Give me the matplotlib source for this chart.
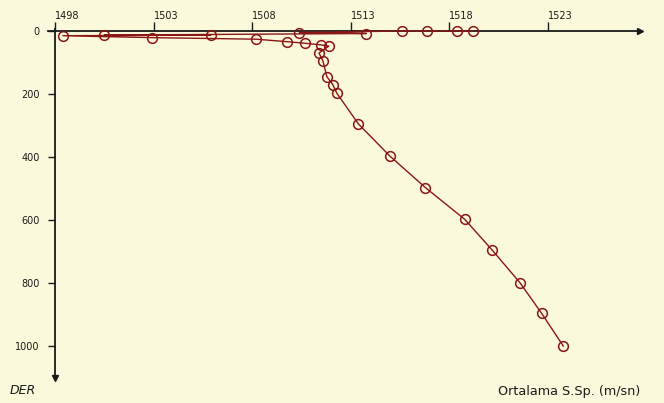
import matplotlib
matplotlib.use("Agg")
import matplotlib.pyplot as plt

# Average sound speed (m/s) against depth (m)
speed = [1519.2, 1518.4, 1516.9, 1515.6, 1510.4, 1513.8, 1500.5, 1505.9,
         1498.4, 1502.9, 1508.2, 1509.8, 1510.7, 1511.5, 1511.9, 1511.4,
         1511.6, 1511.8, 1512.1, 1512.3, 1513.4, 1515.0, 1516.8, 1518.8,
         1520.2, 1521.6, 1522.7, 1523.8]
depth = [0, 0, 0, 0, 5, 8, 13, 13,
         15, 21, 26, 34, 39, 44, 48, 70,
         95, 145, 170, 197, 295, 397, 497, 598,
         696, 799, 896, 1000]

x_ticks = [1498, 1503, 1508, 1513, 1518, 1523]
y_ticks = [0, 200, 400, 600, 800, 1000]

bg = "#fbf9dc"
red = "#8a1616"
ink = "#1a1a1a"

W, H = 664, 403
fig = plt.figure(figsize=(W / 100, H / 100), dpi=100, facecolor=bg)
ax = fig.add_axes([0, 0, 1, 1])
ax.set_facecolor(bg)

# pixel layout: 1498 at x=55, 19.7 px per m/s; depth 0 at y=31, 0.315 px per m
px_per_v = 19.7
px_per_d = 0.315
x0, y0 = 55, 31
ax.set_xlim(1498 - x0 / px_per_v, 1498 + (W - x0) / px_per_v)
ax.set_ylim((H - y0) / px_per_d, -y0 / px_per_d)

for s in ("right", "bottom"):
    ax.spines[s].set_visible(False)
ax.spines["top"].set_position(("data", 0))
ax.spines["left"].set_position(("data", 1498))
x_end = 1498 + (640 - x0) / px_per_v
y_end = (378 - y0) / px_per_d
ax.spines["top"].set_bounds(1498 - 7 / px_per_v, x_end)
ax.spines["left"].set_bounds(-2 / px_per_d, y_end)
for s in ("top", "left"):
    ax.spines[s].set_color(ink)
    ax.spines[s].set_linewidth(1.3)

ax.xaxis.tick_top()
ax.set_xticks(x_ticks)
ax.set_xticklabels([str(t) for t in x_ticks])
ax.tick_params(axis="x", direction="out", length=6.5, width=1, color=ink,
               labelsize=7, labelcolor=ink, pad=1)
for lbl in ax.get_xticklabels():
    lbl.set_horizontalalignment("left")

ax.set_yticks(y_ticks)
ax.set_yticklabels([str(t) for t in y_ticks])
ax.tick_params(axis="y", direction="out", length=5, width=1, color=ink,
               labelsize=7, labelcolor=ink, pad=6)

# axis arrow heads
ax.plot([x_end], [0], marker=">", color=ink, markersize=5, clip_on=False, zorder=5)
ax.plot([1498], [y_end], marker="v", color=ink, markersize=5, clip_on=False, zorder=5)

ax.plot(speed, depth, color=red, linewidth=1.0, marker="o", markersize=7,
        markerfacecolor="none", markeredgecolor=red, markeredgewidth=1.1,
        zorder=3)

fig.text(10 / W, 1 - 391 / H, "DER", style="italic", fontsize=9, color=ink,
         ha="left", va="center")
fig.text(640 / W, 1 - 391 / H, "Ortalama S.Sp. (m/sn)", fontsize=9.2,
         color=ink, ha="right", va="center")

fig.savefig("out.png", dpi=100, facecolor=bg)
